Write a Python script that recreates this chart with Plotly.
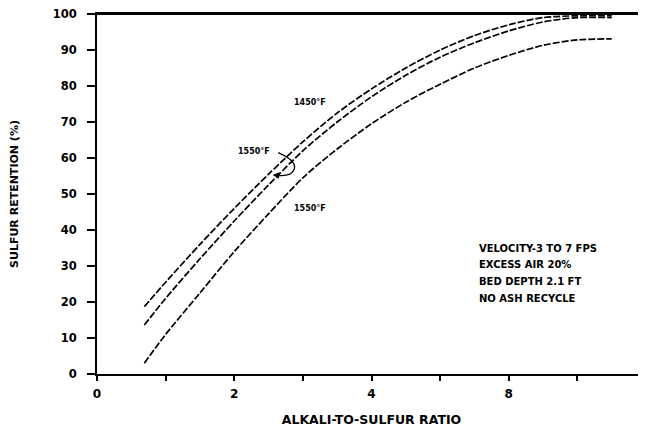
import plotly.graph_objects as go

# Data
x_1450 = [0.69, 1.0, 1.5, 2.0, 2.5, 3.0, 3.5, 4.0, 4.5, 5.0, 5.5, 6.0, 6.5, 7.0, 7.5]
y_1450 = [18.7, 25.5, 36.0, 46.0, 55.5, 64.5, 72.5, 79.2, 85.0, 90.0, 94.0, 97.0, 99.0, 99.5, 99.5]

x_1550a = [0.69, 1.0, 1.5, 2.0, 2.5, 3.0, 3.5, 4.0, 4.5, 5.0, 5.5, 6.0, 6.5, 7.0, 7.5]
y_1550a = [13.6, 21.0, 32.0, 42.5, 52.5, 62.0, 70.0, 77.0, 83.0, 88.0, 92.0, 95.3, 97.8, 99.0, 99.0]

x_1550b = [0.69, 1.0, 1.5, 2.0, 2.5, 3.0, 3.5, 4.0, 4.5, 5.0, 5.5, 6.0, 6.5, 7.0, 7.5]
y_1550b = [3.0, 11.0, 22.5, 34.0, 44.5, 54.5, 62.5, 69.5, 75.5, 80.5, 85.0, 88.5, 91.3, 92.8, 93.1]

x_ticks = [0, 2, 4, 6, 8]
x_ticktext = ["0", "2", "4", "8", ""]
y_ticks = list(range(0, 101, 10))

notes = ["VELOCITY-3 TO 7 FPS", "EXCESS AIR 20%", "BED DEPTH 2.1 FT", "NO ASH RECYCLE"]

FONT = "DejaVu Sans"
line_style = dict(color="black", width=1.7, dash="7px,2px", shape="spline", smoothing=0.8)

fig = go.Figure()
for xs, ys in [(x_1450, y_1450), (x_1550a, y_1550a), (x_1550b, y_1550b)]:
    fig.add_trace(go.Scatter(x=xs, y=ys, mode="lines", line=line_style,
                             showlegend=False, hoverinfo="skip", cliponaxis=False))

fig.update_layout(
    width=638, height=419,
    margin=dict(l=89, r=0, t=6, b=53),
    paper_bgcolor="white", plot_bgcolor="white",
    font=dict(family=FONT, color="black", size=11),
    showlegend=False,
)
fig.update_xaxes(
    range=[0, 8], tickvals=x_ticks, ticktext=x_ticktext,
    showgrid=False, zeroline=False, showline=True, linecolor="black", linewidth=2,
    mirror=True, ticks="outside", ticklen=5, tickwidth=1.5, tickcolor="black",
    minor=dict(tickvals=[1, 3, 5, 7], ticks="outside", ticklen=5, tickwidth=1.5, tickcolor="black"),
    tickfont=dict(family=FONT, size=12, weight="bold"), automargin=False,
    ticklabelstandoff=3,
    title=dict(text="ALKALI-TO-SULFUR RATIO", font=dict(family=FONT, size=12.5, weight="bold"), standoff=17),
)
fig.update_yaxes(
    range=[0, 100], tickvals=y_ticks,
    showgrid=False, zeroline=False, showline=True, linecolor="black", linewidth=2,
    ticks="outside", ticklen=8, tickwidth=1.5, tickcolor="black",
    tickfont=dict(family=FONT, size=11.5, weight="bold"), automargin=False,
    ticklabelstandoff=8, ticklabeloverflow="allow",
    title=dict(text="SULFUR RETENTION (%)", font=dict(family=FONT, size=11, weight="bold"), standoff=37),
)

# top frame line at 100 %
fig.add_shape(type="line", xref="paper", yref="y", x0=0, x1=1, y0=100, y1=100,
              line=dict(color="black", width=2), layer="above")

lab_font = dict(family=FONT, size=8, weight="bold", color="black")
fig.add_annotation(x=3.1, y=75.5, text="1450°F", showarrow=False, font=lab_font)
fig.add_annotation(x=2.29, y=61.7, text="1550°F", showarrow=False, font=lab_font)
fig.add_annotation(x=3.1, y=46.1, text="1550°F", showarrow=False, font=lab_font)

# small hooked arrow from upper 1550°F label to its curve
fig.add_shape(type="path", xref="x", yref="y",
              path="M 2.64,61.5 Q 3.0,58.5 2.82,55.6 Q 2.74,54.9 2.62,55.2",
              line=dict(color="black", width=1.3))
fig.add_annotation(x=2.56, y=55.3, ax=2.68, ay=55.1, xref="x", yref="y", axref="x", ayref="y",
                   text="", showarrow=True, arrowhead=2, arrowsize=1, arrowwidth=1.3, arrowcolor="black")

# notes block placed at screen pixel positions, converted to plot-area paper coordinates
for i, t in enumerate(notes):
    px, py = 477, 248 + 16.7 * i
    fig.add_annotation(x=(px - 97) / 549, y=(374 - py) / 360, xref="paper", yref="paper", text=t,
                       showarrow=False, xanchor="left", yanchor="middle",
                       font=dict(family=FONT, size=10, weight="bold", color="black"))

fig.write_html("out.html")
